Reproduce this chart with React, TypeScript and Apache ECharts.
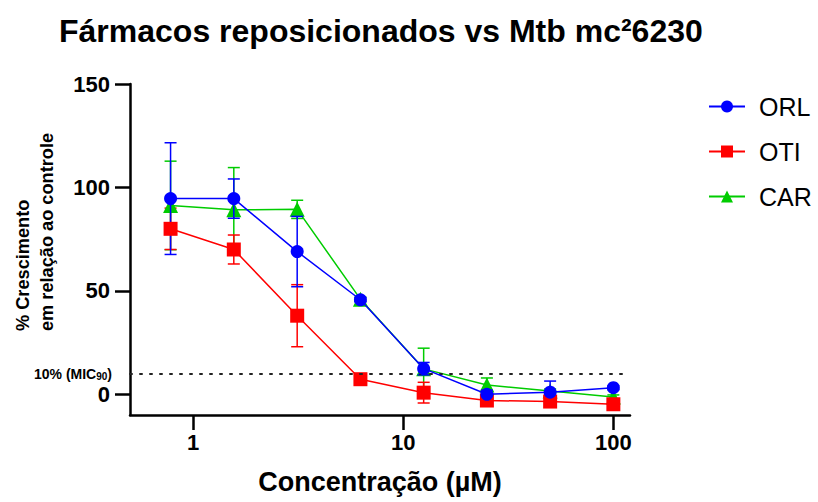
import React, { useEffect, useRef } from "react";
import * as echarts from "echarts";

const concentrations = [0.78, 1.56, 3.125, 6.25, 12.5, 25, 50, 100];
const orlMean = [94.6, 94.6, 69, 45.7, 12.4, 0, 1, 3.2];
const orlSd = [27, 9.5, 17, 1, 3, 2, 5.4, 1];
const otiMean = [80, 70, 38, 7.3, 0.8, -3, -3.5, -4.8];
const otiSd = [10, 7, 15, 0.5, 5, 1, 1, 1];
const carMean = [91.3, 89.2, 89.4, 46, 12.3, 4.5, 1.6, -1.3];
const carSd = [21.4, 20.4, 4.4, 1, 10, 3.4, 1, 1];
const xTicks = [1, 10, 100];
const yTicks = [0, 50, 100, 150];
const micValue = 10;

const FONT = "'Liberation Sans', Arial, Helvetica, sans-serif";

const drugs = [
  { name: "ORL", mean: orlMean, sd: orlSd, color: "#0000FF", symbol: "circle", size: 13, z: 5 },
  { name: "OTI", mean: otiMean, sd: otiSd, color: "#FF0000", symbol: "rect", size: 14, z: 4 },
  { name: "CAR", mean: carMean, sd: carSd, color: "#00CC00", symbol: "triangle", size: 15, z: 3 },
];

export default function App() {
  const ref = useRef<HTMLDivElement>(null);
  useEffect(() => {
    document.body.style.margin = "0";
    if (!ref.current) return;
    const chart = echarts.init(ref.current, null, { renderer: "svg" });
    const series: any[] = [];
    drugs.forEach((d) => {
      series.push({
        name: d.name + " SD",
        type: "custom",
        z: d.z - 1,
        data: concentrations.map((c, i) => [c, d.mean[i] - d.sd[i], d.mean[i] + d.sd[i]]),
        encode: { x: 0, y: [1, 2] },
        renderItem: (params: any, api: any) => {
          const x = api.value(0);
          const lo = api.coord([x, api.value(1)]);
          const hi = api.coord([x, api.value(2)]);
          const w = 6;
          const st = { stroke: d.color, lineWidth: 1.5 };
          return {
            type: "group",
            children: [
              { type: "line", shape: { x1: lo[0], y1: lo[1], x2: hi[0], y2: hi[1] }, style: st },
              { type: "line", shape: { x1: lo[0] - w, y1: lo[1], x2: lo[0] + w, y2: lo[1] }, style: st },
              { type: "line", shape: { x1: hi[0] - w, y1: hi[1], x2: hi[0] + w, y2: hi[1] }, style: st },
            ],
          };
        },
      });
      series.push({
        name: d.name,
        type: "line",
        z: d.z,
        data: concentrations.map((c, i) => [c, d.mean[i]]),
        symbol: d.symbol,
        symbolSize: d.size,
        showAllSymbol: true,
        itemStyle: { color: d.color },
        lineStyle: { color: d.color, width: 1.5 },
        ...(d.name === "ORL"
          ? {
              markLine: {
                silent: true,
                symbol: "none",
                data: [{ yAxis: micValue }],
                lineStyle: { color: "#222", width: 2, type: [2, 8], cap: "round" },
                label: {
                  show: true,
                  position: "start",
                  distance: 18,
                  formatter: "{a|10% (MIC}{b|90}{a|)}",
                  rich: {
                    a: { fontFamily: FONT, fontSize: 14, fontWeight: "bold", color: "#000", lineHeight: 18 },
                    b: { fontFamily: FONT, fontSize: 10, fontWeight: "bold", color: "#000", lineHeight: 18, padding: [6, 0, 0, 0] },
                  },
                },
              },
            }
          : {}),
      });
    });

    chart.setOption({
      animation: false,
      title: {
        text: "Fármacos reposicionados vs Mtb mc²6230",
        left: 54,
        top: 10,
        textStyle: { fontFamily: FONT, fontSize: 32, fontWeight: "bold", color: "#000" },
      },
      legend: {
        data: drugs.map((d) => d.name),
        orient: "vertical",
        left: 703,
        top: 88,
        itemWidth: 36,
        itemHeight: 15,
        itemGap: 18,
        textStyle: { fontFamily: FONT, fontSize: 25, color: "#000", lineHeight: 27, padding: [0, 0, 0, 9] },
      },
      grid: { left: 130, right: 188, top: 84, bottom: 87 },
      xAxis: {
        type: "log",
        min: 0.5,
        max: 120,
        name: "Concentração (µM)",
        nameLocation: "middle",
        nameGap: 53,
        nameTextStyle: { fontFamily: FONT, fontSize: 27, fontWeight: "bold", color: "#000" },
        axisLine: { onZero: false, lineStyle: { color: "#000", width: 2.5 } },
        axisTick: { length: 15, lineStyle: { color: "#000", width: 2.5 }, customValues: xTicks },
        minorTick: { show: false },
        splitLine: { show: false },
        axisLabel: {
          customValues: xTicks,
          margin: 16,
          fontFamily: FONT,
          fontSize: 22,
          fontWeight: "bold",
          color: "#000",
          formatter: (v: number) => String(v),
        },
      },
      yAxis: {
        type: "value",
        min: -10,
        max: 150,
        axisLine: { show: true, onZero: false, lineStyle: { color: "#000", width: 2.5 } },
        axisTick: { show: true, length: 15, lineStyle: { color: "#000", width: 2.5 }, customValues: yTicks },
        splitLine: { show: false },
        axisLabel: {
          customValues: yTicks,
          margin: 20,
          fontFamily: FONT,
          fontSize: 22,
          fontWeight: "bold",
          color: "#000",
        },
      },
      graphic: [
        {
          type: "text",
          x: 23,
          y: 331,
          rotation: Math.PI / 2,
          style: {
            text: "% Crescimento",
            fontFamily: FONT,
            fontSize: 18.2,
            fontWeight: "bold",
            fill: "#000",
            textAlign: "left",
            textVerticalAlign: "middle",
          },
        },
        {
          type: "text",
          x: 47,
          y: 331,
          rotation: Math.PI / 2,
          style: {
            text: "em relação ao controle",
            fontFamily: FONT,
            fontSize: 18.2,
            fontWeight: "bold",
            fill: "#000",
            textAlign: "left",
            textVerticalAlign: "middle",
          },
        },
      ],
      series,
    });
    return () => chart.dispose();
  }, []);
  return <div ref={ref} style={{ width: 818, height: 502 }} />;
}
